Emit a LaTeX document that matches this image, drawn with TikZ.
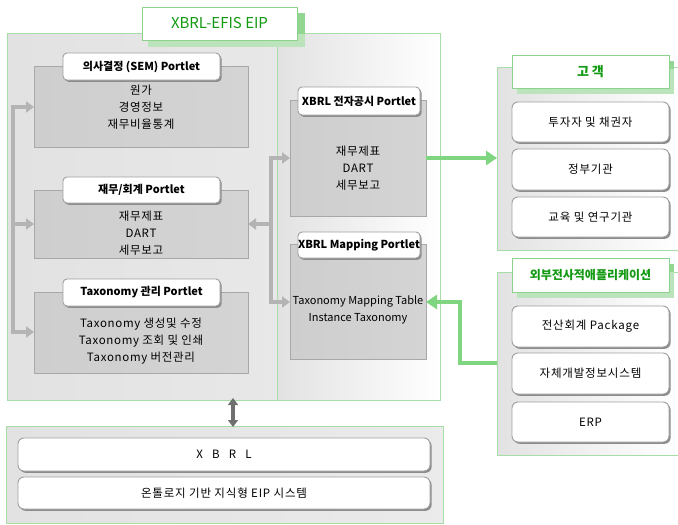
\documentclass[tikz,border=0pt]{standalone}
\usepackage{fontspec}
\setmainfont{Noto Sans CJK KR}
\usetikzlibrary{arrows.meta,shadows}

\definecolor{grline}{HTML}{A6DEA6}
\definecolor{gtbord}{HTML}{8CD28C}
\definecolor{gshade}{HTML}{BCE4BC}
\definecolor{gshadedk}{HTML}{92D692}
\definecolor{gtext}{HTML}{139A13}
\definecolor{bgL}{HTML}{E2E2E2}
\definecolor{pbord}{HTML}{A8A8A8}
\definecolor{pgL}{HTML}{CECECE}
\definecolor{pgR}{HTML}{D4D4D4}
\definecolor{tbord}{HTML}{A0A0A0}
\definecolor{arrgray}{HTML}{B4B4B4}
\definecolor{arrgreen}{HTML}{80D680}
\definecolor{darr}{HTML}{707070}

\tikzset{
  box/.style={anchor=north west, inner sep=0pt, outer sep=0pt},
  grp/.style={box, draw=grline, line width=0.9pt},
  portlet/.style={box, draw=pbord, line width=0.8pt, left color=pgL, middle color=white!96!black, right color=pgR},
  ptab/.style={box, draw=tbord, fill=white, rounded corners=4pt, line width=0.9pt,
    drop shadow={shadow xshift=1.6pt, shadow yshift=-1.8pt, fill=black!45, opacity=1},
    font=\fontsize{11}{13}\selectfont\bfseries},
  gtab/.style={box, draw=gtbord, fill=white, line width=0.9pt, text=gtext},
  gtabshade/.style={box, fill=gshade},
  item/.style={box, draw=tbord, fill=white, rounded corners=6pt, line width=0.9pt,
    drop shadow={shadow xshift=1.6pt, shadow yshift=-1.8pt, fill=black!45, opacity=1},
    font=\fontsize{11.5}{13}\selectfont\addfontfeature{LetterSpace=7}},
  body/.style={align=center, font=\fontsize{11.5}{17}\selectfont\addfontfeature{LetterSpace=6}, inner sep=0pt},
  gline/.style={draw=arrgray, line width=4pt},
  garr/.style={gline, -{Triangle[length=8pt,width=11pt]}},
  grarr/.style={draw=arrgreen, line width=4.5pt, -{Triangle[length=11pt,width=14pt]}},
}

\begin{document}
\begin{tikzpicture}[x=1pt,y=-1pt]
\useasboundingbox (0,0) rectangle (678,525);

% ---------- EIP frame ----------
\node[box, minimum width=270pt, minimum height=367pt, left color=bgL, middle color=white!97!black, right color=bgL!80!white] (eipL) at (7,33) {};
\node[box, minimum width=163pt, minimum height=367pt, left color=bgL, right color=white] (eipR) at (277,33) {};
\node[grp, minimum width=433pt, minimum height=367pt] (eip) at (7,33) {};
\draw[draw=grline, line width=0.9pt] (eipL.north east) -- (eipL.south east);

% title tab
\node[gtabshade, minimum width=157pt, minimum height=34pt] (eipsh) at (148,13) {};
\fill[gshadedk] (eipsh.north east) rectangle ([xshift=-8pt, yshift=-21pt]eipsh.north east);
\node[gtab, minimum width=155pt, minimum height=33pt, font=\fontsize{15}{17}\selectfont] (eiptab) at (142,7) {XBRL-EFIS EIP};

% ---------- left portlets ----------
\node[portlet, minimum width=214pt, minimum height=81pt] (p1) at (34,66) {};
\node[ptab, minimum width=157pt, minimum height=27pt] (p1t) at (63,53) {의사결정 (SEM) Portlet};
\node[body] (p1b) at (141,107) {원가\\경영정보\\재무비율통계};

\node[portlet, minimum width=214pt, minimum height=68pt] (p2) at (34,190) {};
\node[ptab, minimum width=157pt, minimum height=26pt] (p2t) at (63,177) {재무/회계 Portlet};
\node[body] (p2b) at (141,233) {재무제표\\DART\\세무보고};

\node[portlet, minimum width=214pt, minimum height=81pt] (p3) at (34,292) {};
\node[ptab, minimum width=157pt, minimum height=27pt] (p3t) at (63,279) {Taxonomy 관리 Portlet};
\node[body] (p3b) at (141,341) {Taxonomy 생성및 수정\\Taxonomy 조회 및 인쇄\\Taxonomy 버전관리};

% ---------- right portlets ----------
\node[portlet, minimum width=136pt, minimum height=116pt] (pA) at (290,100) {};
\node[ptab, minimum width=122pt, minimum height=28pt] (pAt) at (298,87) {XBRL 전자공시 Portlet};
\node[body] (pAb) at (358,168) {재무제표\\DART\\세무보고};

\node[portlet, minimum width=136pt, minimum height=115pt] (pB) at (290,244) {};
\node[ptab, minimum width=122pt, minimum height=26pt] (pBt) at (298,232) {XBRL Mapping Portlet};
\node[body, font=\fontsize{11}{17}\selectfont] (pBb) at (358,310) {Taxonomy Mapping Table\\Instance Taxonomy};

% ---------- customers ----------
\node[grp, minimum width=181pt, minimum height=183pt, left color=bgL, right color=white] (cust) at (497,67) {};
\node[gtabshade, minimum width=157pt, minimum height=33pt] (custsh) at (517,61) {};
\fill[gshadedk] (custsh.north east) rectangle ([xshift=-7pt, yshift=-8pt]custsh.north east);
\node[gtab, minimum width=157pt, minimum height=33pt, font=\fontsize{13}{15}\selectfont\bfseries] (custt) at (512,55) {고 객};
\node[item, minimum width=157pt, minimum height=40pt] (c1) at (512,102) {투자자 및 채권자};
\node[item, minimum width=157pt, minimum height=41pt] (c2) at (512,149) {정부기관};
\node[item, minimum width=157pt, minimum height=40pt] (c3) at (512,197) {교육 및 연구기관};

% ---------- external enterprise applications ----------
\node[grp, minimum width=181pt, minimum height=183pt, left color=bgL, right color=white] (ext) at (497,272) {};
\node[gtabshade, minimum width=157pt, minimum height=34pt] (extsh) at (517,264) {};
\fill[gshadedk] (extsh.north east) rectangle ([xshift=-7pt, yshift=-8pt]extsh.north east);
\node[gtab, minimum width=157pt, minimum height=34pt, font=\fontsize{12}{14}\selectfont\bfseries] (extt) at (512,258) {외부전사적애플리케이션};
\node[item, minimum width=157pt, minimum height=41pt] (e1) at (512,306) {전산회계 Package};
\node[item, minimum width=157pt, minimum height=41pt] (e2) at (512,353) {자체개발정보시스템};
\node[item, minimum width=157pt, minimum height=40pt] (e3) at (512,402) {ERP};

% ---------- base layer ----------
\node[grp, minimum width=437pt, minimum height=97pt, left color=bgL, middle color=white, right color=bgL!70!white] (base) at (6,426) {};
\node[item, minimum width=412pt, minimum height=33pt] (b1) at (18,438) {X\hspace{0.8em}B\hspace{0.8em}R\hspace{0.8em}L};
\node[item, minimum width=412pt, minimum height=32pt] (b2) at (18,477) {온톨로지 기반 지식형 EIP 시스템};

% ---------- connectors ----------
\coordinate (L1) at (13,107);
\coordinate (L3) at (13,332);
\draw[gline] ([yshift=-2pt]L1) -- ([yshift=2pt]L3);
\draw[garr] ([xshift=-2pt]L1) -- (L1 -| p1.west);
\draw[garr] ([xshift=-2pt]L1 |- p2.west) -- (p2.west);
\draw[garr] ([xshift=-2pt]L3) -- (L3 -| p3.west);

\coordinate (M1) at (271,158);
\coordinate (M2) at (271,302);
\draw[gline] ([yshift=-2pt]M1) -- ([yshift=2pt]M2);
\draw[garr] ([xshift=-2pt]M1) -- (M1 -| pA.west);
\draw[garr] ([xshift=-2pt]M2) -- (M2 -| pB.west);
\draw[garr] ([xshift=2pt]M1 |- p2.east) -- (p2.east);

\draw[grarr] (M1 -| pA.east) -- (M1 -| cust.west);
\coordinate (G) at (460,363);
\draw[grarr] (G -| ext.west) -- (G) |- (M2 -| pB.east);

\coordinate (D) at (233,0);
\draw[draw=darr, line width=3.5pt, {Triangle[length=7pt,width=10pt]}-{Triangle[length=7pt,width=10pt]}]
  ([yshift=2pt]D |- eip.south) -- ([yshift=-1pt]D |- base.north);
\end{tikzpicture}
\end{document}
